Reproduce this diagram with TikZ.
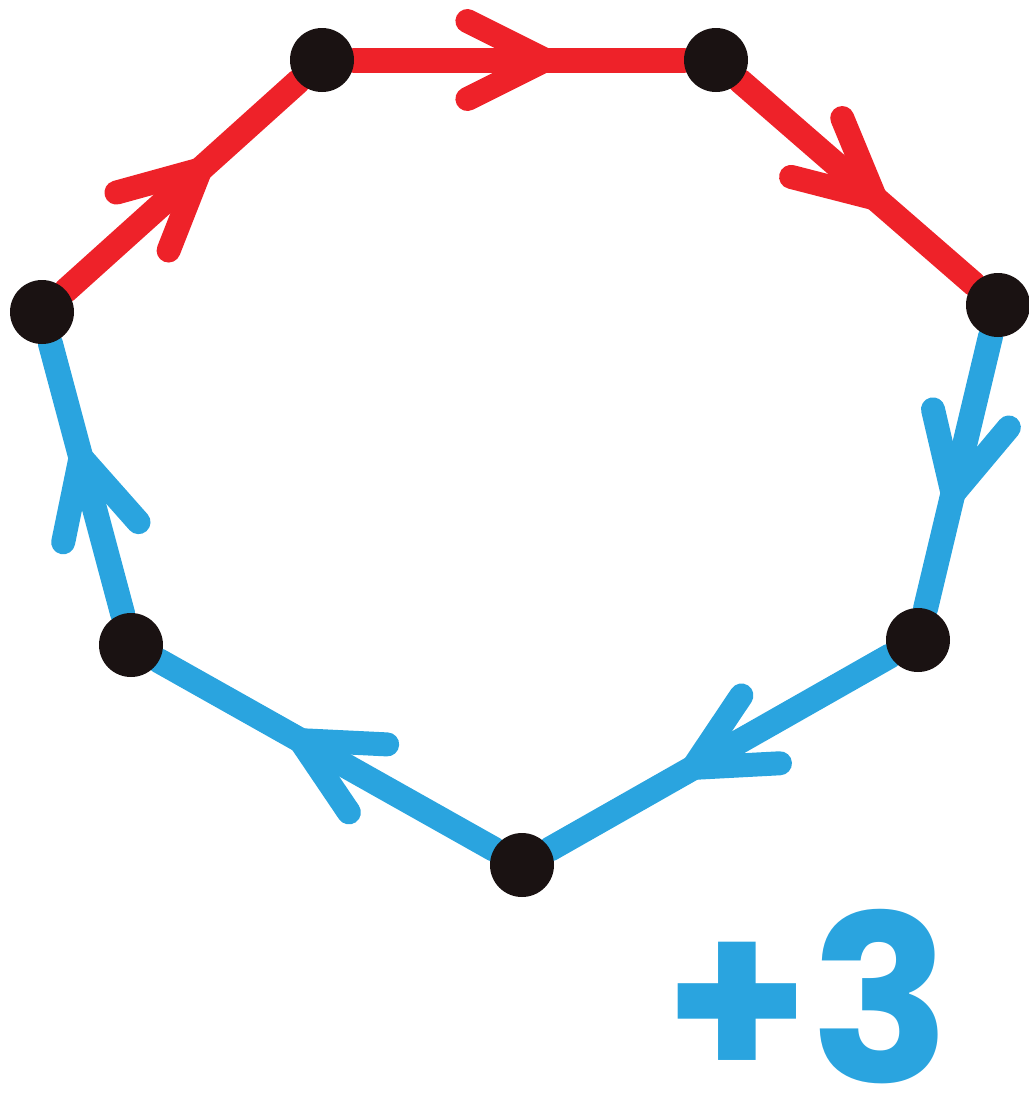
\documentclass[tikz,border=0pt]{standalone}
\usepackage{fontspec}
\usepackage{xcolor}
\usepackage{tikz}
\usetikzlibrary{decorations.markings,backgrounds}
\newfontfamily\numfont{Poppins}
\definecolor{LoopRed}{HTML}{EE2229}
\definecolor{LoopBlue}{HTML}{2AA4DF}
\definecolor{LoopInk}{HTML}{1A1212}
\tikzset{
  dot/.style={circle,fill=LoopInk,minimum size=6.4mm,inner sep=0pt,outer sep=0pt},
  chevron/.style={postaction={decorate},decoration={markings,
    mark=at position 0.58 with {\draw[line width=2.4mm,line cap=round,line join=round]
      (-7.8mm,3.9mm) -- (0,0) -- (-7.8mm,-3.9mm);}}},
  redflow/.style={draw=LoopRed,line width=2.5mm,line cap=round,chevron},
  blueflow/.style={draw=LoopBlue,line width=2.5mm,line cap=round,chevron}
}
\begin{document}
\begin{tikzpicture}[x=0.1mm,y=-0.1mm]
  \useasboundingbox (0,0) rectangle (1029,1101);
  \node[dot] (a) at (42,312) {};
  \node[dot] (b) at (322,60) {};
  \node[dot] (c) at (716,60) {};
  \node[dot] (d) at (998,305) {};
  \node[dot] (e) at (918,640) {};
  \node[dot] (f) at (522,865) {};
  \node[dot] (g) at (131,645) {};
  \begin{scope}[on background layer]
    \draw[redflow] (a) -- (b);
    \draw[redflow] (b) -- (c);
    \draw[redflow] (c) -- (d);
    \draw[blueflow] (d) -- (e);
    \draw[blueflow] (e) -- (f);
    \draw[blueflow] (f) -- (g);
    \draw[blueflow] (g) -- (a);
  \end{scope}

  \node[text=LoopBlue,anchor=base,inner sep=0pt,
    font=\numfont\bfseries\fontsize{66}{66}\selectfont] (score) at (808,1082) {+3};
\end{tikzpicture}
\end{document}
